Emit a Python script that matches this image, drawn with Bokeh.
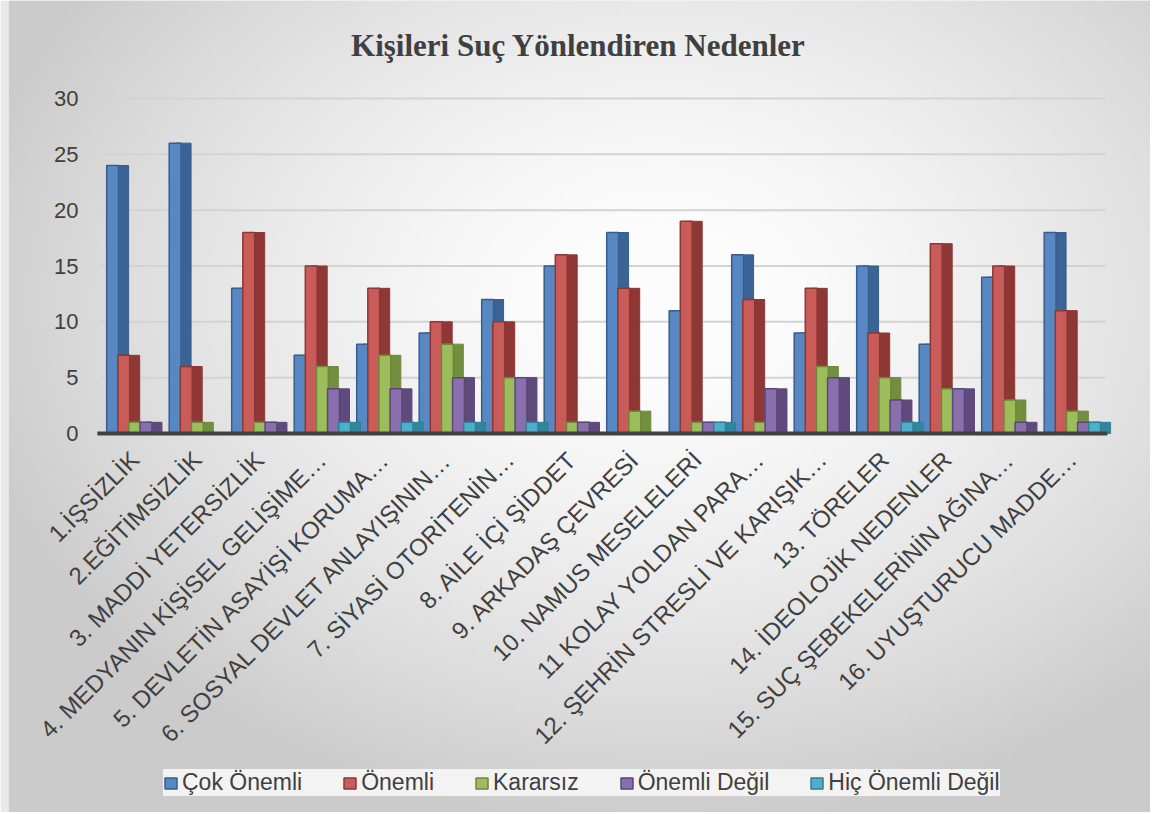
import math
import numpy as np
from bokeh.plotting import figure
from bokeh.models import ColumnDataSource, Range1d, Legend, LegendItem
from bokeh.transform import dodge
from bokeh.core.properties import value
from bokeh.embed import file_html
from bokeh.resources import INLINE

categories = [
    "1.İŞSİZLİK", "2.EĞİTİMSİZLİK", "3. MADDİ YETERSİZLİK",
    "4. MEDYANIN KİŞİSEL GELİŞİME…", "5. DEVLETİN ASAYİŞİ KORUMA…",
    "6. SOSYAL DEVLET ANLAYIŞININ…", "7. SİYASİ OTORİTENİN…",
    "8. AİLE İÇİ ŞİDDET", "9. ARKADAŞ ÇEVRESİ", "10. NAMUS MESELELERİ",
    "11 KOLAY YOLDAN PARA…", "12. ŞEHRİN STRESLİ VE KARIŞIK…",
    "13. TÖRELER", "14. İDEOLOJİK NEDENLER", "15. SUÇ ŞEBEKELERİNİN AĞINA…",
    "16. UYUŞTURUCU MADDE…",
]
series_names = ["Çok Önemli", "Önemli", "Kararsız", "Önemli Değil", "Hiç Önemli Değil"]
cok_onemli = [24, 26, 13, 7, 8, 9, 12, 15, 18, 11, 16, 9, 15, 8, 14, 18]
onemli = [7, 6, 18, 15, 13, 10, 10, 16, 13, 19, 12, 13, 9, 17, 15, 11]
kararsiz = [1, 1, 1, 6, 7, 8, 5, 1, 2, 1, 1, 6, 5, 4, 3, 2]
onemli_degil = [1, 0, 1, 4, 4, 5, 5, 1, 0, 1, 4, 5, 3, 4, 1, 1]
hic_onemli_degil = [0, 0, 0, 1, 1, 1, 1, 0, 0, 1, 0, 0, 1, 0, 0, 1]
y_ticks = [0, 5, 10, 15, 20, 25, 30]
title_text = "Kişileri Suç Yönlendiren Nedenler"

n = len(categories)
series = [cok_onemli, onemli, kararsiz, onemli_degil, hic_onemli_degil]
keys = ["s0", "s1", "s2", "s3", "s4"]
data = {"cat": categories, "xc": [i + 0.5 for i in range(n)]}
for k, s in zip(keys, series):
    data[k] = s
source = ColumnDataSource(data)
tick_source = ColumnDataSource(dict(y=y_ticks, label=[str(t) for t in y_ticks]))

front_colors = ["#5888c4", "#c95b58", "#9cbd5b", "#8a6fae", "#4eafc8"]
side_colors = ["#3b6496", "#8f3734", "#728f3e", "#5e4a7c", "#31859c"]
line_colors = ["#385d8a", "#8c3836", "#6f873d", "#5c4776", "#2f7f95"]

# ---- layout (pixels) ----
W, H = 1150, 812
frame_left, frame_top = 8, 0
plot_left, plot_right = 100, 1100        # where the category slots lie
top_px, zero_px = 98, 433                # value 30 and value 0
title_cx, title_cy = 578, 45
ppx = (plot_right - plot_left) / n       # px per category
ppy = (zero_px - top_px) / y_ticks[-1]   # px per unit
x_start = (frame_left - plot_left) / ppx
x_end = (W - plot_left) / ppx
y_end = y_ticks[-1] + (top_px - frame_top) / ppy
y_start = -(H - zero_px) / ppy

p = figure(
    x_range=Range1d(x_start, x_end), y_range=Range1d(y_start, y_end),
    width=W, height=H, title=None,
    output_backend="svg", toolbar_location=None,
    min_border_left=frame_left, min_border_right=0, min_border_top=frame_top, min_border_bottom=0,
    border_fill_color="#e9e9e9", background_fill_color="#e9e9e9",
)
p.outline_line_color = None
p.xaxis.visible = False
p.yaxis.visible = False
p.xgrid.grid_line_color = None
p.ygrid.grid_line_color = None

# soft radial background shading
gw, gh = 230, 163
gx = np.linspace(frame_left, W, gw)
gy = np.linspace(H, frame_top, gh)            # bottom row first
XX, YY = np.meshgrid(gx, gy)
d = np.sqrt(((XX - 660) / 700.0) ** 2 + ((YY - 300) / 520.0) ** 2)
shade = np.clip(255 - 50 * d ** 1.5, 203, 252).astype(np.uint8)
img = np.empty((gh, gw), dtype=np.uint32)
view = img.view(dtype=np.uint8).reshape((gh, gw, 4))
view[:, :, 0] = shade
view[:, :, 1] = shade
view[:, :, 2] = shade
view[:, :, 3] = 255
p.image_rgba(image=[img], x=x_start, y=y_start, dw=x_end - x_start, dh=y_end - y_start)

# title
p.text(x=[(title_cx - plot_left) / ppx], y=[(zero_px - title_cy) / ppy], text=[title_text],
       text_align="center", text_baseline="middle",
       text_font=value("Liberation Serif"), text_font_size="31px", text_font_style="bold",
       text_color="#404040")

# gridlines
p.segment(x0=0, x1=n + 0.08, y0="y", y1="y", source=tick_source, line_color="#d3d3d3", line_width=2)

stride = 0.178
bw = 0.19
fronts = []
for i, k in enumerate(keys):
    off = (i - 2) * stride + 0.05
    p.vbar(x=dodge("xc", off + 0.13), top=k, width=0.25, source=source,
           fill_color=side_colors[i], line_color=line_colors[i], line_width=1)
    r = p.vbar(x=dodge("xc", off), top=k, width=bw, source=source,
               fill_color=front_colors[i], line_color=line_colors[i], line_width=1.5)
    fronts.append(r)

# category baseline
p.segment(x0=-0.05, x1=n + 0.11, y0=0, y1=0, line_color="#404040", line_width=4)

# value tick labels
p.text(x=0, y="y", text="label", source=tick_source, x_offset=-22,
       text_align="right", text_baseline="middle",
       text_font=value("Liberation Sans"), text_font_size="22px", text_color="#404040")

# rotated category labels
p.text(x="xc", y=0, text="cat", source=source, angle=math.pi / 4,
       x_offset=3, y_offset=22, text_align="right", text_baseline="middle",
       text_font=value("Liberation Sans"), text_font_size="24px", text_color="#404040")

legend = Legend(
    items=[LegendItem(label=nm, renderers=[r]) for nm, r in zip(series_names, fronts)],
    orientation="horizontal", location=(155, 16),
    glyph_width=15, glyph_height=14, label_standoff=4, spacing=40, padding=12,
    label_height=24,
    label_text_font="Liberation Sans", label_text_font_size="23px", label_text_color="#404040",
    background_fill_color="#f3f3f3", background_fill_alpha=1.0, border_line_color=None,
)
p.add_layout(legend, "center")

open("out.html", "w").write(file_html(p, INLINE))
